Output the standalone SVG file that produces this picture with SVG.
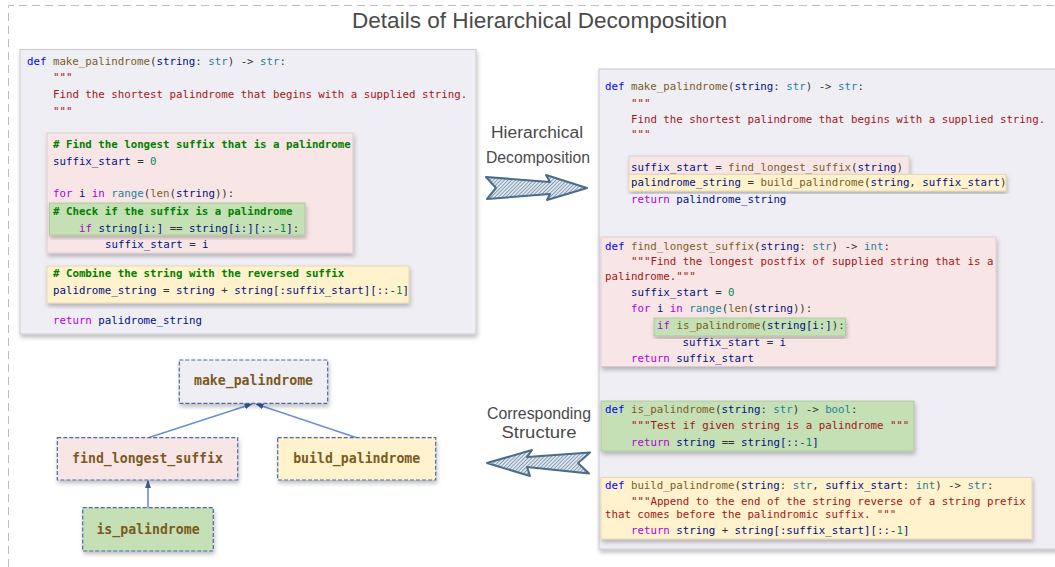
<svg xmlns="http://www.w3.org/2000/svg" width="1055" height="567" viewBox="0 0 1055 567">
<style>
.code{font-family:"DejaVu Sans Mono",monospace;font-size:10.75px;fill:#001080}
.k{fill:#0000ff}.f{fill:#795e26}.t{fill:#267f99}.p{fill:#333333}.s{fill:#a31515}.c{fill:#008000;font-weight:bold}.m{fill:#af00db}.n{fill:#098658}
.hand{font-family:"Comic Sans MS","Liberation Sans",sans-serif;fill:#4a4a4a}
.panel{fill:#f0eef5;stroke:#cbc9d2;stroke-width:1}
.pink{fill:#f8e6e6;stroke:#d8c8c8;stroke-width:0.8}
.green{fill:#c5e0b4;stroke:#a9c49a;stroke-width:0.8}
.yellow{fill:#fff2cc;stroke:#dfd2ac;stroke-width:0.8}
.node rect{stroke:#4a68a8;stroke-width:1.2;stroke-dasharray:4 2}
.node text{font-family:"DejaVu Sans Mono",monospace;font-weight:bold;font-size:13.2px;fill:#7a5a1e;text-anchor:middle}
.conn{stroke:#6b8fd8;stroke-width:1.6;fill:none;marker-end:url(#ah)}
.bigarrow{fill:url(#hatch);stroke:#4a6c8c;stroke-width:2;stroke-linejoin:round}
</style>
<defs>
<filter id="sh" x="-5%" y="-10%" width="110%" height="125%">
<feDropShadow dx="1" dy="3" stdDeviation="2" flood-color="#000" flood-opacity="0.25"/>
</filter>
<marker id="ah" markerWidth="8" markerHeight="6" refX="7.5" refY="3" orient="auto" markerUnits="userSpaceOnUse">
<path d="M0,0 L8,3 L0,6 z" fill="#3c5ca0"/>
</marker>
<pattern id="hatch" width="2.6" height="2.6" patternUnits="userSpaceOnUse" patternTransform="rotate(45)">
<rect width="2.6" height="2.6" fill="#dfe6ee"/>
<line x1="0" y1="0" x2="0" y2="2.6" stroke="#5d7b99" stroke-width="1.3"/>
</pattern>
</defs>
<rect width="1055" height="567" fill="#ffffff"/>
<path d="M8.5,567 V5.5 H1055" fill="none" stroke="#bdbdbd" stroke-width="1" stroke-dasharray="8 5"/>
<text class="hand" x="539.5" y="28" font-size="22" text-anchor="middle" textLength="375" lengthAdjust="spacingAndGlyphs">Details of Hierarchical Decomposition</text>

<g id="original-code" xml:space="preserve">
<rect class="panel" x="20" y="49.5" width="456" height="284.5" filter="url(#sh)"/>
<text class="code" x="27" y="64.5"><tspan class="k">def</tspan> <tspan class="f">make_palindrome</tspan><tspan class="p">(</tspan>string<tspan class="p">: </tspan><tspan class="t">str</tspan><tspan class="p">) -&gt; </tspan><tspan class="t">str</tspan><tspan class="p">:</tspan></text>
<text class="code s" x="53" y="80.7">"""</text>
<text class="code s" x="53" y="98">Find the shortest palindrome that begins with a supplied string.</text>
<text class="code s" x="53" y="115">"""</text>
<rect class="pink" x="47" y="133" width="306" height="120" filter="url(#sh)"/>
<text class="code c" x="53" y="148"># Find the longest suffix that is a palindrome</text>
<text class="code" x="53" y="164.5">suffix_start <tspan class="p">=</tspan> <tspan class="n">0</tspan></text>
<text class="code" x="53" y="197"><tspan class="m">for</tspan> i <tspan class="m">in</tspan> <tspan class="t">range</tspan><tspan class="p">(</tspan><tspan class="f">len</tspan><tspan class="p">(</tspan>string<tspan class="p">)):</tspan></text>
<rect class="green" x="49.5" y="203" width="255.5" height="32" filter="url(#sh)"/>
<text class="code c" x="53" y="215"># Check if the suffix is a palindrome</text>
<text class="code" x="79" y="231.5"><tspan class="m">if</tspan> string[i:] <tspan class="p">==</tspan> string[i:][::<tspan class="p">-</tspan><tspan class="n">1</tspan>]<tspan class="p">:</tspan></text>
<text class="code" x="105" y="248">suffix_start <tspan class="p">=</tspan> i</text>
<rect class="yellow" x="47" y="266" width="362" height="37" filter="url(#sh)"/>
<text class="code c" x="53" y="277"># Combine the string with the reversed suffix</text>
<text class="code" x="53" y="294">palidrome_string <tspan class="p">=</tspan> string <tspan class="p">+</tspan> string[:suffix_start][::<tspan class="p">-</tspan><tspan class="n">1</tspan>]</text>
<text class="code" x="53" y="324"><tspan class="m">return</tspan> palidrome_string</text>
</g>

<g id="label-decomposition">
<text class="hand" x="537" y="137.5" font-size="16" text-anchor="middle" textLength="92" lengthAdjust="spacingAndGlyphs">Hierarchical</text>
<text class="hand" x="538" y="162.5" font-size="16" text-anchor="middle" textLength="104" lengthAdjust="spacingAndGlyphs">Decomposition</text>
<polygon class="bigarrow" points="486,177 550,182 546,175 587,188 547,200 550,194 487,199 496,188"/>
</g>

<g id="label-structure">
<text class="hand" x="539" y="418.5" font-size="16" text-anchor="middle" textLength="104" lengthAdjust="spacingAndGlyphs">Corresponding</text>
<text class="hand" x="539" y="438" font-size="16" text-anchor="middle" textLength="75" lengthAdjust="spacingAndGlyphs">Structure</text>
<polygon class="bigarrow" points="487,463 532,450 527,457 590,452.5 578,463 589,473.5 527,467 530,476"/>
</g>

<g id="decomposed-code" xml:space="preserve">
<rect class="panel" x="599" y="69" width="470" height="480" filter="url(#sh)"/>
<text class="code" x="605" y="89.8"><tspan class="k">def</tspan> <tspan class="f">make_palindrome</tspan><tspan class="p">(</tspan>string<tspan class="p">: </tspan><tspan class="t">str</tspan><tspan class="p">) -&gt; </tspan><tspan class="t">str</tspan><tspan class="p">:</tspan></text>
<text class="code s" x="631" y="106.7">"""</text>
<text class="code s" x="631" y="123">Find the shortest palindrome that begins with a supplied string.</text>
<text class="code s" x="631" y="138.4">"""</text>
<rect class="pink" x="629" y="156" width="280" height="18.3" filter="url(#sh)"/>
<text class="code" x="631" y="170.5">suffix_start <tspan class="p">=</tspan> <tspan class="f">find_longest_suffix</tspan><tspan class="p">(</tspan>string<tspan class="p">)</tspan></text>
<rect class="yellow" x="629" y="174.3" width="377" height="16.7" filter="url(#sh)"/>
<text class="code" x="631" y="186.1">palindrome_string <tspan class="p">=</tspan> <tspan class="f">build_palindrome</tspan><tspan class="p">(</tspan>string<tspan class="p">,</tspan> suffix_start<tspan class="p">)</tspan></text>
<text class="code" x="631" y="202.8"><tspan class="m">return</tspan> palindrome_string</text>
</g>

<g id="func-find-longest-suffix" xml:space="preserve">
<rect class="pink" x="601" y="237" width="395" height="129.5" filter="url(#sh)"/>
<text class="code" x="605" y="249.5"><tspan class="k">def</tspan> <tspan class="f">find_longest_suffix</tspan><tspan class="p">(</tspan>string<tspan class="p">: </tspan><tspan class="t">str</tspan><tspan class="p">) -&gt; </tspan><tspan class="t">int</tspan><tspan class="p">:</tspan></text>
<text class="code s" x="631" y="264.8">"""Find the longest postfix of supplied string that is a</text>
<text class="code s" x="605" y="279.5">palindrome."""</text>
<text class="code" x="631" y="295.5">suffix_start <tspan class="p">=</tspan> <tspan class="n">0</tspan></text>
<text class="code" x="631" y="311.5"><tspan class="m">for</tspan> i <tspan class="m">in</tspan> <tspan class="t">range</tspan><tspan class="p">(</tspan><tspan class="f">len</tspan><tspan class="p">(</tspan>string<tspan class="p">)):</tspan></text>
<rect class="green" x="654" y="318" width="191.5" height="18" filter="url(#sh)"/>
<text class="code" x="657" y="328.8"><tspan class="m">if</tspan> <tspan class="f">is_palindrome</tspan><tspan class="p">(</tspan>string[i:]<tspan class="p">):</tspan></text>
<text class="code" x="682.5" y="345.5">suffix_start <tspan class="p">=</tspan> i</text>
<text class="code" x="631" y="362.1"><tspan class="m">return</tspan> suffix_start</text>
</g>

<g id="func-is-palindrome" xml:space="preserve">
<rect class="green" x="601" y="401" width="313" height="50" filter="url(#sh)"/>
<text class="code" x="605" y="413.1"><tspan class="k">def</tspan> <tspan class="f">is_palindrome</tspan><tspan class="p">(</tspan>string<tspan class="p">: </tspan><tspan class="t">str</tspan><tspan class="p">) -&gt; </tspan><tspan class="t">bool</tspan><tspan class="p">:</tspan></text>
<text class="code s" x="631" y="428.8">"""Test if given string is a palindrome """</text>
<text class="code" x="631" y="445.8"><tspan class="m">return</tspan> string <tspan class="p">==</tspan> string[::<tspan class="p">-</tspan><tspan class="n">1</tspan>]</text>
</g>

<g id="func-build-palindrome" xml:space="preserve">
<rect class="yellow" x="601" y="477.3" width="431" height="61.7" filter="url(#sh)"/>
<text class="code" x="605" y="489.1"><tspan class="k">def</tspan> <tspan class="f">build_palindrome</tspan><tspan class="p">(</tspan>string<tspan class="p">: </tspan><tspan class="t">str</tspan><tspan class="p">,</tspan> suffix_start<tspan class="p">: </tspan><tspan class="t">int</tspan><tspan class="p">) -&gt; </tspan><tspan class="t">str</tspan><tspan class="p">:</tspan></text>
<text class="code s" x="631" y="504.8">"""Append to the end of the string reverse of a string prefix</text>
<text class="code s" x="605" y="518.1">that comes before the palindromic suffix. """</text>
<text class="code" x="631" y="533.8"><tspan class="m">return</tspan> string <tspan class="p">+</tspan> string[:suffix_start][::<tspan class="p">-</tspan><tspan class="n">1</tspan>]</text>
</g>

<g id="connectors">
<line class="conn" x1="148.3" y1="437.7" x2="252" y2="404"/>
<line class="conn" x1="356.7" y1="437.7" x2="256" y2="404"/>
<line class="conn" x1="148" y1="507.7" x2="148" y2="480.5"/>
</g>

<g id="node-make-palindrome" class="node">
<rect x="179.3" y="360" width="148.4" height="43.3" fill="#f0eef5" filter="url(#sh)"/>
<text x="253.5" y="385.2">make_palindrome</text>
</g>
<g id="node-find-longest-suffix" class="node">
<rect x="57.3" y="437.7" width="180.4" height="42.3" fill="#f8e6e6" filter="url(#sh)"/>
<text x="147.5" y="462.8">find_longest_suffix</text>
</g>
<g id="node-build-palindrome" class="node">
<rect x="277.7" y="437.7" width="158" height="42.3" fill="#fff2cc" filter="url(#sh)"/>
<text x="356.7" y="462.8">build_palindrome</text>
</g>
<g id="node-is-palindrome" class="node">
<rect x="82.7" y="507.7" width="130.6" height="43.3" fill="#c5e0b4" filter="url(#sh)"/>
<text x="148" y="533.8">is_palindrome</text>
</g>
</svg>
